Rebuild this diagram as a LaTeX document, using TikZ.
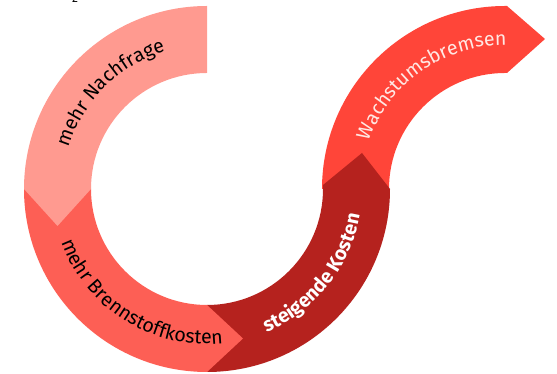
\documentclass[tikz,border=0pt]{standalone}
\usepackage{fontspec}
\setmainfont{Fira Sans}
\usetikzlibrary{decorations.text}
\definecolor{cPink}{RGB}{255,154,144}
\definecolor{cRed}{RGB}{253,95,85}
\definecolor{cDark}{RGB}{181,34,30}
\definecolor{cBright}{RGB}{255,69,57}
\definecolor{cPale}{RGB}{255,232,228}
\newcommand\mytextfont{\fontsize{19.6}{22}\selectfont}
\tikzset{
  arctext/.style={decorate, decoration={text along path, text align=center, text={#1}}}
}
\begin{document}
\begin{tikzpicture}[x=1pt,y=1pt]
\useasboundingbox (0,0) rectangle (557,374);
\coordinate (C1) at (207,185);
\coordinate (C2) at (505,185);
% segment 4: Wachstumsbremsen
\fill[cBright] ([shift={(180:183pt)}]C2) arc[start angle=180, end angle=90, radius=183pt]
  -- (507,368) -- (545,335) -- (507,301) -- ([shift={(90:116pt)}]C2)
  arc[start angle=90, end angle=180, radius=116pt] -- cycle;
% segment 3: steigende Kosten
\fill[cDark] ([shift={(270:183pt)}]C1) arc[start angle=270, end angle=360, radius=183pt]
  -- (362,221) -- (323,189) -- ([shift={(0:116pt)}]C1)
  arc[start angle=0, end angle=-90, radius=116pt] -- cycle;
% segment 2: mehr Brennstoffkosten
\fill[cRed] ([shift={(180:183pt)}]C1) arc[start angle=180, end angle=270, radius=183pt]
  -- (243,35.5) -- ([shift={(270:116pt)}]C1)
  arc[start angle=270, end angle=180, radius=116pt] -- cycle;
% segment 1: mehr Nachfrage
\fill[cPink] ([shift={(90:183pt)}]C1) arc[start angle=90, end angle=180, radius=183pt]
  -- (57.5,148) -- ([shift={(180:116pt)}]C1)
  arc[start angle=180, end angle=90, radius=116pt] -- cycle;
% texts
\path[arctext={|\mytextfont|mehr Nachfrage}] ([shift={(204:144pt)}]C1) arc[start angle=204, end angle=66, radius=144pt];
\path[arctext={|\mytextfont|mehr Brennstoffkosten}] ([shift={(180:155pt)}]C1) arc[start angle=180, end angle=296, radius=155pt];
\path[arctext={|\mytextfont\bfseries\color{white}|steigende Kosten}] ([shift={(272:155pt)}]C1) arc[start angle=272, end angle=371, radius=155pt];
\path[arctext={|\mytextfont\color{cPale}|Wachstumsbremsen}] ([shift={(190:144pt)}]C2) arc[start angle=190, end angle=60, radius=144pt];
\node[anchor=base, inner sep=0pt, font=\fontsize{12}{14}\selectfont] (frag) at (75,371) {2};
\end{tikzpicture}
\end{document}
